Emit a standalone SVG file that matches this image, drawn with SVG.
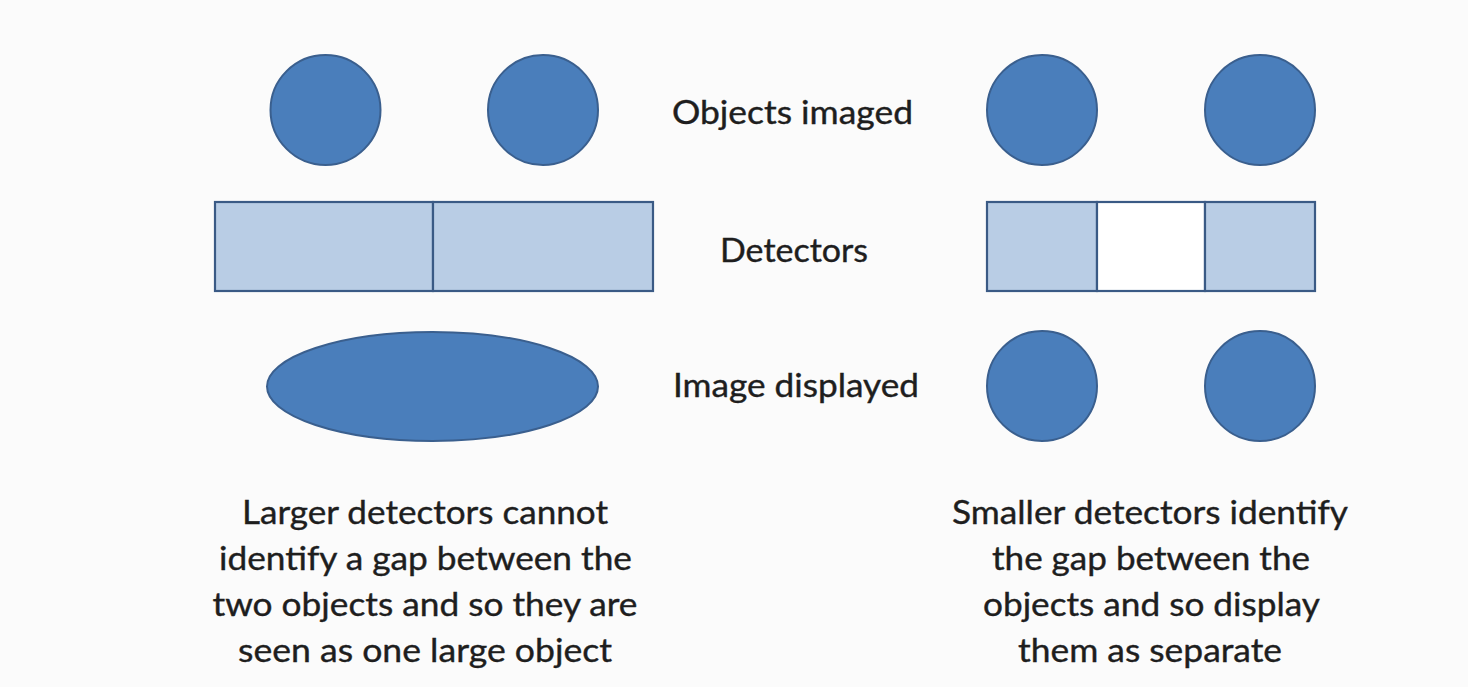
<svg xmlns="http://www.w3.org/2000/svg" width="1468" height="687" viewBox="0 0 1468 687">
<style>
.obj{fill:#4a7ebb;stroke:#3a5f8e;stroke-width:2}
.det{fill:#b9cde5;stroke:#3a5a85;stroke-width:2.2}
.gap{fill:#ffffff;stroke:#3a5a85;stroke-width:2.2}
.t{font-family:Lato,"Open Sans","Liberation Sans",sans-serif;fill:#1e1e1e;stroke:#1e1e1e;stroke-width:0.4;text-anchor:middle}
.lbl{font-size:32px}
.par{font-size:33px}
</style>
<rect x="0" y="0" width="1468" height="687" fill="#fbfbfb"/>
<g id="left-objects">
<circle class="obj" cx="325.5" cy="110" r="55"/>
<circle class="obj" cx="543" cy="110" r="55"/>
</g>
<g id="left-detectors">
<rect class="det" x="215" y="202" width="218" height="89"/>
<rect class="det" x="433" y="202" width="220" height="89"/>
</g>
<g id="left-image">
<ellipse class="obj" cx="432.5" cy="386.5" rx="165.5" ry="54.5"/>
</g>
<g id="right-objects">
<circle class="obj" cx="1042" cy="110" r="55"/>
<circle class="obj" cx="1260" cy="110" r="55"/>
</g>
<g id="right-detectors">
<rect class="det" x="987" y="202" width="110" height="89"/>
<rect class="gap" x="1097" y="202" width="108" height="89"/>
<rect class="det" x="1205" y="202" width="110" height="89"/>
</g>
<g id="right-image">
<circle class="obj" cx="1042" cy="386" r="55"/>
<circle class="obj" cx="1260" cy="386" r="55"/>
</g>
<g id="labels">
<text class="t lbl" x="792.5" y="124" textLength="241" lengthAdjust="spacingAndGlyphs">Objects imaged</text>
<text class="t lbl" x="794" y="262" textLength="148" lengthAdjust="spacingAndGlyphs">Detectors</text>
<text class="t lbl" x="796" y="397" textLength="246" lengthAdjust="spacingAndGlyphs">Image displayed</text>
</g>
<g id="left-caption">
<text class="t par" x="425" y="524" textLength="366" lengthAdjust="spacingAndGlyphs">Larger detectors cannot</text>
<text class="t par" x="425.5" y="570" textLength="413" lengthAdjust="spacingAndGlyphs">identify a gap between the</text>
<text class="t par" x="425" y="616" textLength="425" lengthAdjust="spacingAndGlyphs">two objects and so they are</text>
<text class="t par" x="425" y="662" textLength="374" lengthAdjust="spacingAndGlyphs">seen as one large object</text>
</g>
<g id="right-caption">
<text class="t par" x="1150" y="524" textLength="396" lengthAdjust="spacingAndGlyphs">Smaller detectors identify</text>
<text class="t par" x="1151" y="570" textLength="318" lengthAdjust="spacingAndGlyphs">the gap between the</text>
<text class="t par" x="1151.5" y="616" textLength="337" lengthAdjust="spacingAndGlyphs">objects and so display</text>
<text class="t par" x="1150" y="662" textLength="264" lengthAdjust="spacingAndGlyphs">them as separate</text>
</g>
</svg>
